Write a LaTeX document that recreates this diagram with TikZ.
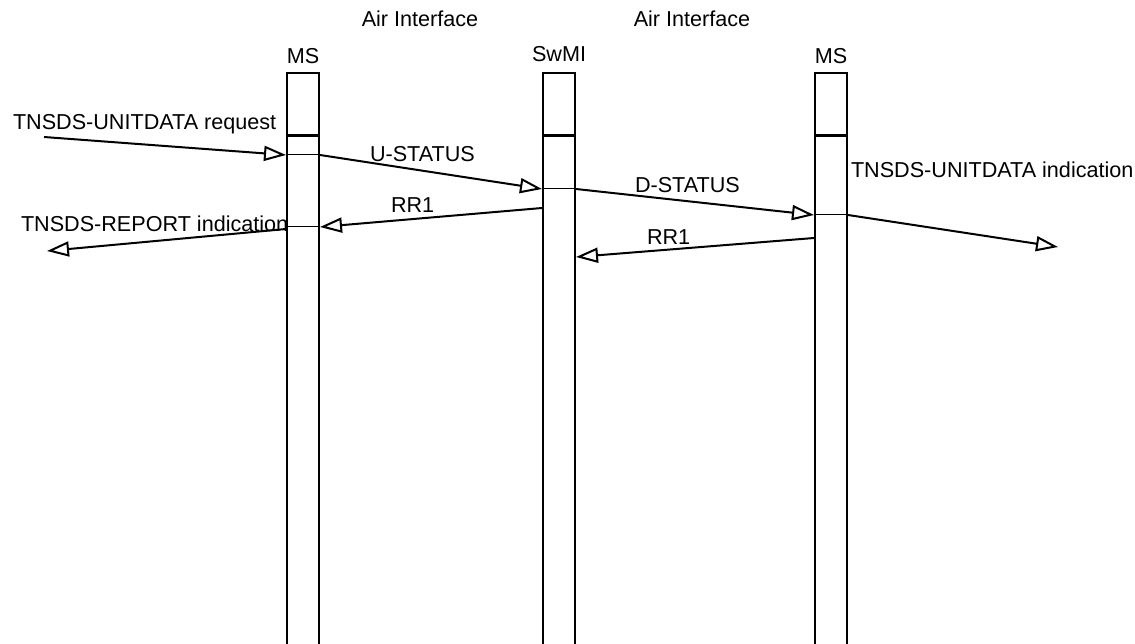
\documentclass[tikz,border=0pt]{standalone}
\usepackage{fontspec}
\setmainfont{Liberation Sans}
\usetikzlibrary{arrows.meta}

\begin{document}
\begin{tikzpicture}[x=1pt, y=-1pt, line width=2pt,
    >={Triangle[open, length=22pt, width=15pt]},
    font=\fontsize{21.6}{25}\selectfont,
    lifeline/.style={draw, line width=2pt, minimum width=32pt, minimum height=600pt, anchor=north, inner sep=0pt},
    txt/.style={anchor=base west, inner sep=0pt},
    hdr/.style={anchor=base, inner sep=0pt}]
    % Khung hình
    \useasboundingbox (0,0) rectangle (1135,644);

    % Tiêu đề
    \node[hdr] (airA) at (420,27) {Air Interface};
    \node[hdr] (airB) at (692,27) {Air Interface};
    \node[hdr] (msAname) at (303,64) {MS};
    \node[hdr] (swminame) at (559,62) {SwMI};
    \node[hdr] (msBname) at (831,64) {MS};

    % Các cột
    \node[lifeline] (msA) at (303,72) {};
    \node[lifeline] (swmi) at (559,72) {};
    \node[lifeline] (msB) at (831,72) {};
    \foreach \c in {msA, swmi, msB}
        \draw[line width=3pt] (\c.west |- 0,136) -- (\c.east |- 0,136);

    % Các điểm trên cột
    \coordinate (reqFrom) at (44,137);
    \coordinate (reqTo) at (msA.west |- 0,155);
    \coordinate (usFrom) at (msA.east |- 0,155);
    \coordinate (usTo) at (swmi.west |- 0,189);
    \coordinate (dsFrom) at (swmi.east |- 0,189);
    \coordinate (dsTo) at (msB.west |- 0,215);
    \coordinate (indFrom) at (msB.east |- 0,215);
    \coordinate (indTo) at (1058,247);
    \coordinate (rraFrom) at (swmi.west |- 0,208);
    \coordinate (rraTo) at (msA.east |- 0,227);
    \coordinate (repFrom) at (msA.west |- 0,229);
    \coordinate (repTo) at (47,251);
    \coordinate (rrbFrom) at (msB.west |- 0,238);
    \coordinate (rrbTo) at (swmi.east |- 0,257);

    % Đường mảnh ngang qua cột
    \draw[line width=1pt] (reqTo) -- (usFrom);
    \draw[line width=1pt] (usTo) -- (dsFrom);
    \draw[line width=1pt] (dsTo) -- (indFrom);
    \draw[line width=1pt] (msA.west |- rraTo) -- (rraTo);

    % Các mũi tên
    \draw[->] (reqFrom) -- (reqTo);
    \draw[->] (usFrom) -- (usTo);
    \draw[->] (dsFrom) -- (dsTo);
    \draw[->] (indFrom) -- (indTo);
    \draw[->] (rraFrom) -- (rraTo);
    \draw[->] (repFrom) -- (repTo);
    \draw[->] (rrbFrom) -- (rrbTo);

    % Nhãn
    \node[txt] (reqText) at (12,130) {TNSDS-UNITDATA request};
    \node[txt] (usText) at (369,162) {U-STATUS};
    \node[txt] (dsText) at (634,193) {D-STATUS};
    \node[txt] (indText) at (850,178) {TNSDS-UNITDATA indication};
    \node[txt] (rraText) at (390,213) {RR1};
    \node[txt] (repText) at (20,232) {TNSDS-REPORT indication};
    \node[txt] (rrbText) at (646,245) {RR1};
\end{tikzpicture}
\end{document}
